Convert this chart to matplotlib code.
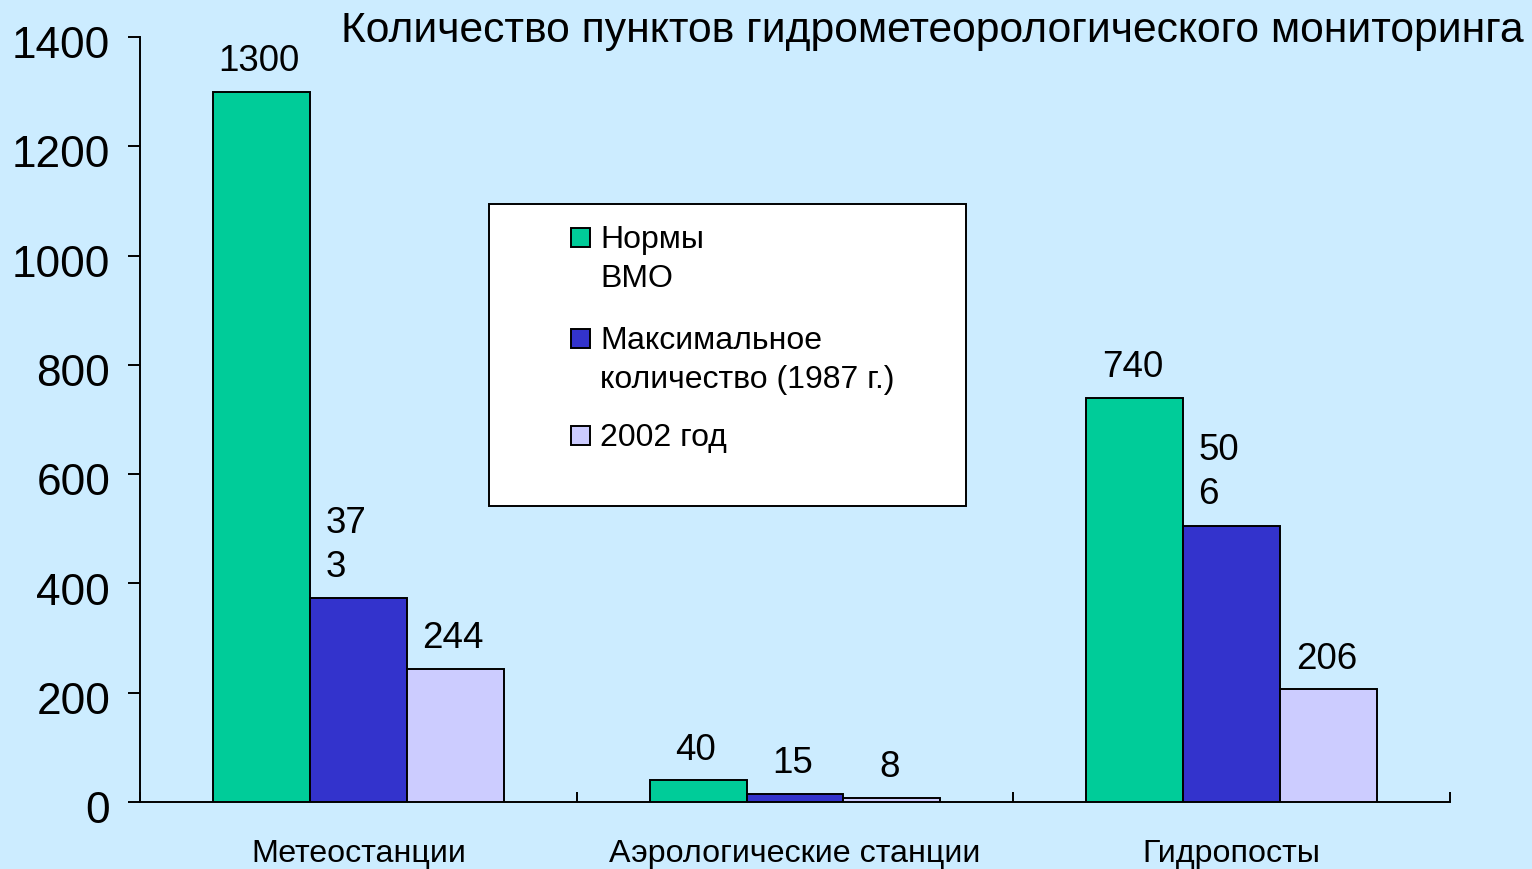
import matplotlib
matplotlib.use("Agg")
import matplotlib.pyplot as plt
import matplotlib.transforms as mtransforms
from matplotlib.patches import Rectangle
import numpy as np

plt.rcParams['font.family'] = ['Liberation Sans', 'DejaVu Sans']

# --- data -------------------------------------------------------------
categories = ["Метеостанции", "Аэрологические станции", "Гидропосты"]
series_names = ["Нормы\nВМО", "Максимальное\nколичество (1987 г.)", "2002 год"]
norms_wmo = [1300, 40, 740]
max_1987 = [373, 15, 506]
year_2002 = [244, 8, 206]
series_colors = ["#00CC99", "#3333CC", "#CCCCFF"]
y_ticks = [0, 200, 400, 600, 800, 1000, 1200, 1400]
title = "Количество пунктов гидрометеорологического мониторинга"

# --- figure -----------------------------------------------------------
W, H, DPI = 1532, 870, 100
BG = "#CCECFF"


def fx(x):
    return x / W


def fy(y):
    return 1 - y / H


fig = plt.figure(figsize=(W / DPI, H / DPI), dpi=DPI, facecolor=BG)
ax = fig.add_axes([fx(140), fy(803), 1310 / W, 765 / H], facecolor=BG)

series = [norms_wmo, max_1987, year_2002]
bar_w = 0.222
centers = np.arange(len(categories)) + 0.5

for i, (vals, col) in enumerate(zip(series, series_colors)):
    xs = centers + (i - 1) * bar_w
    ax.bar(xs, vals, width=bar_w, color=col, edgecolor="black",
           linewidth=1.4, zorder=3)
    for x, v in zip(xs, vals):
        s = str(v)
        if i == 1 and len(s) == 3:
            # narrow label box wraps the three-digit value
            ax.annotate(s[:2] + "\n" + s[2:], xy=(x - bar_w / 2, v),
                        xytext=(11, 16), textcoords="offset points",
                        ha="left", va="baseline", fontsize=26.5,
                        linespacing=1.33, zorder=4)
        else:
            ax.annotate(s, xy=(x, v), xytext=(-1.5, 15.5),
                        textcoords="offset points", ha="center",
                        va="baseline", fontsize=26.5, zorder=4)

ax.set_xlim(0, len(categories))
ax.set_ylim(0, 1400)

ax.spines["top"].set_visible(False)
ax.spines["right"].set_visible(False)
for side in ("left", "bottom"):
    ax.spines[side].set_linewidth(1.4)

ax.set_yticks(y_ticks)
ax.set_yticklabels([str(t) for t in y_ticks])
ax.tick_params(axis="y", direction="out", length=9, width=1.4,
               pad=12.5, labelsize=31.8)
shift = mtransforms.ScaledTranslation(0, -3 / 72, fig.dpi_scale_trans)
for lbl in ax.get_yticklabels():
    lbl.set_transform(lbl.get_transform() + shift)

ax.set_xticks(centers)
ax.set_xticklabels(categories)
ax.tick_params(axis="x", which="major", length=0, pad=26, labelsize=23.2)
ax.set_xticks(np.arange(len(categories) + 1), minor=True)
ax.tick_params(axis="x", which="minor", direction="in", length=7, width=1.4)

# --- title ------------------------------------------------------------
fig.text(fx(1524), fy(42), title, ha="right", va="baseline", fontsize=30.7)

# --- legend box -------------------------------------------------------
fig.add_artist(Rectangle((fx(489), fy(507)), (966 - 489) / W, (507 - 205) / H,
                         transform=fig.transFigure, facecolor="white",
                         edgecolor="black", linewidth=1.4, zorder=5))
first_baselines = [248, 349, 446]
line_step = 39
for name, col, base in zip(series_names, series_colors, first_baselines):
    fig.add_artist(Rectangle((fx(571), fy(base)), 19 / W, 19 / H,
                             transform=fig.transFigure, facecolor=col,
                             edgecolor="black", linewidth=1.4, zorder=6))
    for k, line in enumerate(name.split("\n")):
        fig.text(fx(600), fy(base + k * line_step), line, ha="left",
                 va="baseline", fontsize=23, zorder=6)

fig.savefig("out.png", dpi=DPI, facecolor=BG)
